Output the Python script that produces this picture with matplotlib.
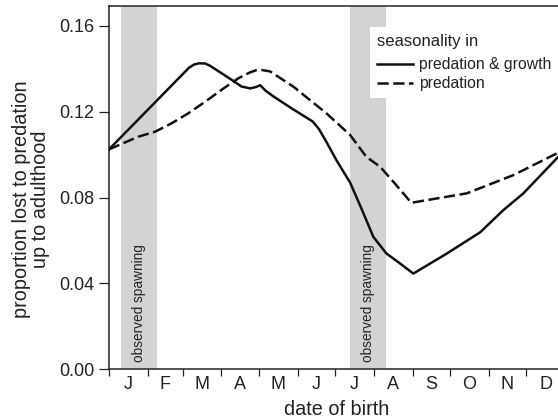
import matplotlib
matplotlib.use("Agg")
import matplotlib.pyplot as plt

plt.rcParams['font.family'] = ['Liberation Sans', 'DejaVu Sans']

# ---- data ----
months = ['J', 'F', 'M', 'A', 'M', 'J', 'J', 'A', 'S', 'O', 'N', 'D']
month_days = [31, 28, 31, 30, 31, 30, 31, 31, 30, 31, 30, 31]

days_growth = [0, 64, 68, 72, 77, 81, 90, 99.5, 106, 113, 118, 121, 125, 131.5,
               147, 163, 168, 174, 182, 193, 202, 211.6, 222, 233, 243.6, 270,
               297, 315.7, 331.7, 358.4, 365]
loss_growth = [0.1025, 0.1405, 0.1420, 0.1426, 0.1425, 0.1414, 0.1380, 0.1344,
               0.1318, 0.1309, 0.1316, 0.1324, 0.1300, 0.1272, 0.1213, 0.1155,
               0.1120, 0.1060, 0.0975, 0.0870, 0.0750, 0.0617, 0.0540, 0.0493,
               0.0446, 0.0538, 0.0638, 0.0742, 0.0820, 0.0983, 0.1022]

days_pred = [0, 23.5, 36.8, 50, 63.5, 77, 90, 103.5, 113, 118, 122, 129, 147.6,
             174, 193, 206, 217, 227.6, 242, 286.4, 323.7, 358.4, 365]
loss_pred = [0.1025, 0.1084, 0.1107, 0.1146, 0.1193, 0.1247, 0.1302, 0.1356,
             0.1384, 0.1394, 0.1395, 0.1388, 0.1317, 0.1193, 0.1092, 0.0990,
             0.0944, 0.0874, 0.0776, 0.0820, 0.0905, 0.1006, 0.1025]

spawning_periods = [(9.6, 38.4), (193, 222)]

yticks = [0.00, 0.04, 0.08, 0.12, 0.16]

# ---- figure ----
fig = plt.figure(figsize=(5.58, 4.19), dpi=100)
ax = fig.add_axes([109/558, (419-369.3)/419, (565-109)/558, (369.3-6)/419])

for a, b in spawning_periods:
    ax.axvspan(a, b, color='#d2d3d5', lw=0, zorder=0)
    ax.text((a+b)/2, 0.0033, 'observed spawning', rotation=90, ha='center',
            va='bottom', fontsize=9.8, color='#222222', zorder=1)

l1, = ax.plot(days_growth, loss_growth, color='#111111', lw=1.8, zorder=3,
              solid_joinstyle='round')
l2, = ax.plot(days_pred, loss_pred, color='#111111', lw=1.8, zorder=3,
              dashes=(4.5, 1.8))

ax.set_xlim(0, 365)
ax.set_ylim(0, 0.1693)

starts = [sum(month_days[:i]) for i in range(12)]
mids = [s + d/2 for s, d in zip(starts, month_days)]
ax.set_xticks(starts)
ax.set_xticklabels([])
ax.set_xticks(mids, minor=True)
ax.set_xticklabels(months, minor=True)
ax.tick_params(axis='x', which='major', length=5, width=0.9, direction='out',
               color='#222222')
ax.tick_params(axis='x', which='minor', length=0, pad=4.5, labelsize=13,
               labelcolor='#222222')

ax.set_yticks(yticks)
ax.set_yticklabels([f'{v:.2f}' for v in yticks])
ax.tick_params(axis='y', length=7.2, width=0.9, pad=3.6, labelsize=13,
               labelcolor='#222222', color='#222222')

for s in ['left', 'bottom', 'top']:
    ax.spines[s].set_linewidth(1.1)
    ax.spines[s].set_color('#222222')
ax.spines['right'].set_visible(False)

fig.text(31/558, 1-199/419, 'proportion lost to predation\nup to adulthood',
         rotation=90, ha='center', va='center', multialignment='center',
         fontsize=14.3, linespacing=1.0, color='#222222')
fig.text(337/558, 1-415/419, 'date of birth', ha='center', va='baseline',
         fontsize=14.3, color='#222222')

leg = ax.legend([l1, l2], ['predation & growth', 'predation'],
                title='seasonality in', title_fontsize=12, fontsize=11.3,
                alignment='left', loc='upper left',
                bbox_to_anchor=(370/558, 1-26.7/419),
                bbox_transform=fig.transFigure, borderaxespad=0,
                borderpad=0.45, handlelength=2.3, handletextpad=0.4,
                labelspacing=0.25, frameon=True, fancybox=False,
                facecolor='white', edgecolor='none', framealpha=1)
leg._legend_box.sep = 0.55 * 11.3
leg.set_zorder(5)
for t in leg.get_texts():
    t.set_color('#222222')
leg.get_title().set_color('#222222')

fig.savefig('out.png', dpi=100)
